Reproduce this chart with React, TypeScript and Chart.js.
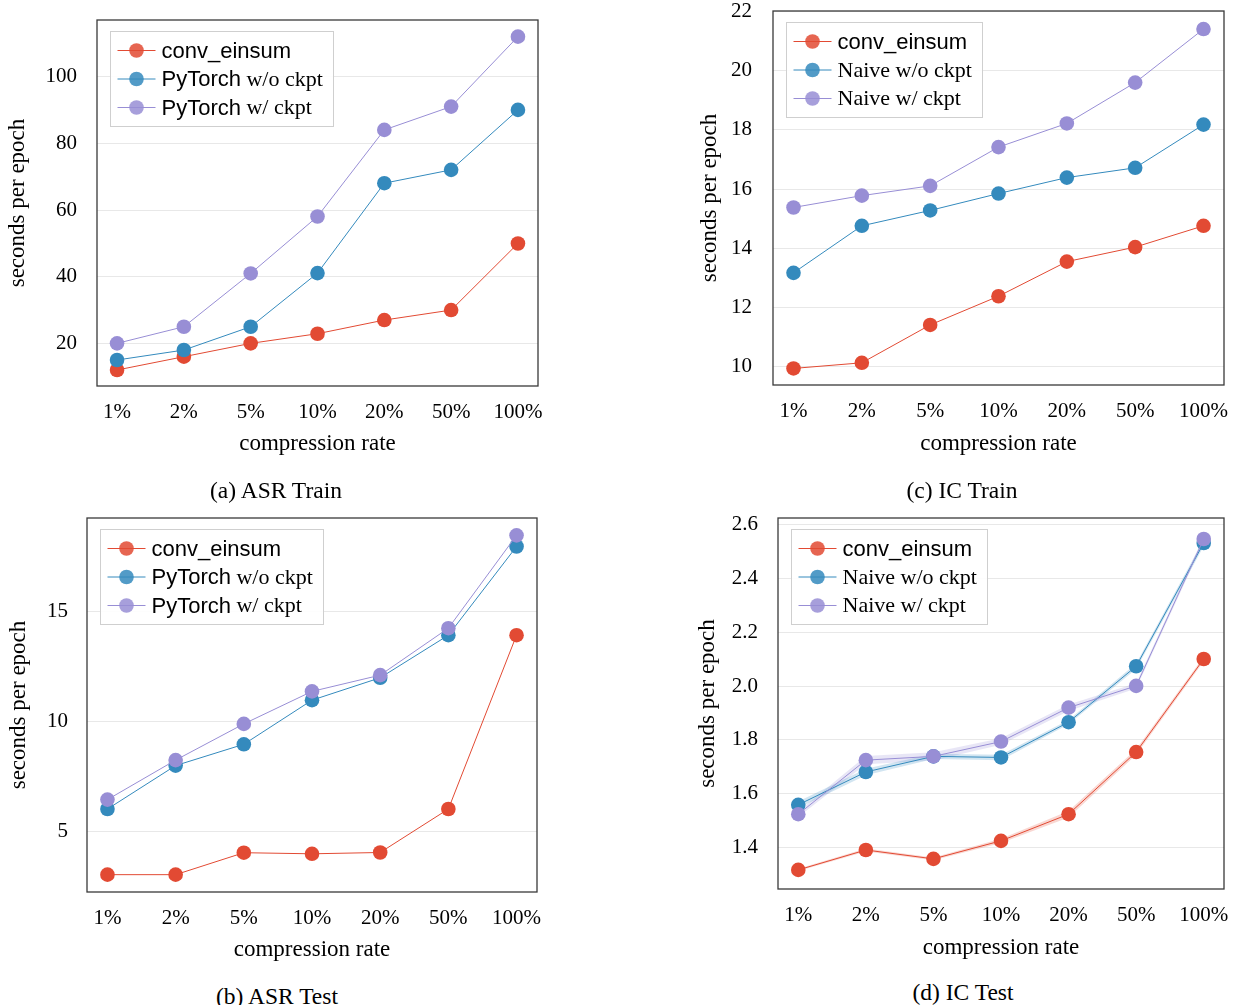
import React, { useEffect, useRef } from 'react';
import { Chart, registerables } from 'chart.js';

Chart.register(...registerables);

// ---------- data ----------
const compressionRates = ['1%', '2%', '5%', '10%', '20%', '50%', '100%'];

const asrTrainConvEinsum = [12.0, 16.0, 20.0, 22.9, 27.0, 30.0, 50.0];
const asrTrainPyTorchNoCkpt = [15.0, 18.0, 25.0, 41.1, 68.1, 72.1, 90.1];
const asrTrainPyTorchCkpt = [20.0, 25.0, 41.0, 58.1, 84.1, 91.1, 112.1];

const asrTestConvEinsum = [3.03, 3.03, 4.03, 3.98, 4.04, 6.02, 13.94];
const asrTestPyTorchNoCkpt = [6.02, 8.0, 8.97, 10.98, 12.0, 13.94, 17.98];
const asrTestPyTorchCkpt = [6.45, 8.25, 9.9, 11.38, 12.12, 14.26, 18.49];

const icTrainConvEinsum = [9.94, 10.13, 11.41, 12.38, 13.55, 14.04, 14.76];
const icTrainNaiveNoCkpt = [13.17, 14.76, 15.28, 15.85, 16.39, 16.72, 18.18];
const icTrainNaiveCkpt = [15.38, 15.78, 16.11, 17.42, 18.22, 19.6, 21.41];

const icTestConvEinsum = [1.317, 1.391, 1.358, 1.425, 1.524, 1.755, 2.101];
const icTestNaiveNoCkpt = [1.559, 1.681, 1.739, 1.735, 1.866, 2.074, 2.532];
const icTestNaiveCkpt = [1.524, 1.725, 1.739, 1.794, 1.92, 2.001, 2.547];
const icTestConvEinsumStd = [0.004, 0.006, 0.005, 0.008, 0.012, 0.01, 0.008];
const icTestNaiveNoCkptStd = [0.012, 0.012, 0.01, 0.01, 0.008, 0.01, 0.012];
const icTestNaiveCkptStd = [0.01, 0.015, 0.015, 0.012, 0.012, 0.01, 0.01];

const RED = '#E24A33';
const BLUE = '#348ABD';
const PURPLE = '#988ED5';

type Part = { text: string; serif: boolean };
type Series = { data: number[]; color: string; legend: Part[]; std?: number[] };
type PanelProps = {
  canvasLeft: number;
  canvasTop: number;
  canvasWidth: number;
  canvasHeight: number;
  area: { l: number; t: number; r: number; b: number };
  yMin: number;
  yMax: number;
  yStep: number;
  yDecimals: number;
  yTickPad: number;
  yTickSize: number;
  yTitlePad: number;
  xTitlePad: number;
  series: Series[];
};

function rgba(hex: string, a: number) {
  const n = parseInt(hex.slice(1), 16);
  return `rgba(${(n >> 16) & 255},${(n >> 8) & 255},${n & 255},${a})`;
}

function Panel(p: PanelProps) {
  const ref = useRef<HTMLCanvasElement>(null);
  useEffect(() => {
    const canvas = ref.current!;
    const datasets: any[] = [];
    p.series.forEach((s, i) => {
      if (s.std) {
        datasets.push({
          data: s.data.map((v, k) => ({ x: k, y: v - s.std![k] })),
          borderColor: 'rgba(0,0,0,0)',
          borderWidth: 0,
          pointRadius: 0,
          fill: false,
          order: 10,
        });
        datasets.push({
          data: s.data.map((v, k) => ({ x: k, y: v + s.std![k] })),
          borderColor: 'rgba(0,0,0,0)',
          borderWidth: 0,
          pointRadius: 0,
          fill: '-1',
          backgroundColor: rgba(s.color, 0.22),
          order: 10,
        });
      }
      datasets.push({
        data: s.data.map((v, k) => ({ x: k, y: v })),
        borderColor: s.color,
        backgroundColor: s.color,
        borderWidth: 1,
        pointRadius: 7.3,
        pointHoverRadius: 7.3,
        pointBorderWidth: 0,
        pointBackgroundColor: s.color,
        fill: false,
        tension: 0,
        order: 3 - i,
      });
    });

    const legendPlugin = {
      id: 'insideLegend',
      afterDatasetsDraw(chart: any) {
        const ctx = chart.ctx as CanvasRenderingContext2D;
        const ca = chart.chartArea;
        const fontSans = '22px "Liberation Sans"';
        const fontSerif = '22px "Liberation Serif"';
        ctx.save();
        const widths = p.series.map((s) =>
          s.legend.reduce((w, part) => {
            ctx.font = part.serif ? fontSerif : fontSans;
            return w + ctx.measureText(part.text).width;
          }, 0)
        );
        const maxW = Math.max(...widths);
        const rowH = 28.5;
        const bx = Math.round(ca.left + 13) + 0.5;
        const by = Math.round(ca.top + 11) + 0.5;
        const bw = Math.round(7 + 44 + maxW + 11);
        const bh = Math.round(38 + rowH * (p.series.length - 1));
        ctx.fillStyle = 'rgba(255,255,255,0.9)';
        ctx.fillRect(bx, by, bw, bh);
        ctx.strokeStyle = '#cfcfcf';
        ctx.lineWidth = 1;
        ctx.strokeRect(bx, by, bw, bh);
        p.series.forEach((s, i) => {
          const cy = by + 19 + i * rowH;
          const x0 = bx + 7;
          ctx.strokeStyle = s.color;
          ctx.lineWidth = 1;
          ctx.beginPath();
          ctx.moveTo(x0, cy);
          ctx.lineTo(x0 + 38, cy);
          ctx.stroke();
          ctx.globalAlpha = 0.85;
          ctx.fillStyle = s.color;
          ctx.beginPath();
          ctx.arc(x0 + 19, cy, 7.3, 0, Math.PI * 2);
          ctx.fill();
          ctx.globalAlpha = 1;
          let tx = x0 + 44;
          ctx.fillStyle = '#000';
          ctx.textBaseline = 'middle';
          ctx.textAlign = 'left';
          s.legend.forEach((part) => {
            ctx.font = part.serif ? fontSerif : fontSans;
            ctx.fillText(part.text, tx, cy + 1);
            tx += ctx.measureText(part.text).width;
          });
        });
        ctx.restore();
      },
    };

    const borderPlugin = {
      id: 'frame',
      afterDraw(chart: any) {
        const ctx = chart.ctx as CanvasRenderingContext2D;
        const ca = chart.chartArea;
        ctx.save();
        ctx.strokeStyle = '#3a3a3a';
        ctx.lineWidth = 1.3;
        ctx.strokeRect(ca.left, ca.top, ca.right - ca.left, ca.bottom - ca.top);
        ctx.restore();
      },
    };

    const zeroPad = (s: any) => {
      s.paddingTop = 0;
      s.paddingBottom = 0;
      s.paddingLeft = 0;
      s.paddingRight = 0;
    };

    const chart = new Chart(canvas, {
      type: 'line',
      data: { datasets },
      options: {
        responsive: false,
        animation: false,
        devicePixelRatio: 1,
        events: [],
        layout: {
          padding: {
            left: 0,
            top: p.area.t - p.canvasTop,
            right: p.canvasLeft + p.canvasWidth - p.area.r,
            bottom: 0,
          },
        },
        plugins: { legend: { display: false }, tooltip: { enabled: false } },
        scales: {
          x: {
            type: 'linear',
            min: -0.3,
            max: 6.3,
            afterFit: (s: any) => {
              s.height = p.canvasTop + p.canvasHeight - p.area.b;
              zeroPad(s);
            },
            grid: { display: false, drawTicks: false },
            border: { display: false },
            ticks: {
              stepSize: 1,
              includeBounds: false,
              autoSkip: false,
              maxRotation: 0,
              padding: 13.4,
              color: '#000',
              font: { family: 'Liberation Serif', size: 21, lineHeight: 1.2 },
              callback: (v: any) =>
                Number.isInteger(v) && compressionRates[v] !== undefined ? compressionRates[v] : '',
            },
            title: {
              display: true,
              text: 'compression rate',
              color: '#000',
              font: { family: 'Liberation Serif', size: 23, lineHeight: 1.2 },
              padding: { top: 0, bottom: p.xTitlePad },
            },
          },
          y: {
            type: 'linear',
            min: p.yMin,
            max: p.yMax,
            afterFit: (s: any) => {
              s.width = p.area.l - p.canvasLeft;
              zeroPad(s);
            },
            grid: { color: '#e8e8e8', drawTicks: false, lineWidth: 1 },
            border: { display: false },
            ticks: {
              stepSize: p.yStep,
              includeBounds: false,
              padding: p.yTickPad,
              color: '#000',
              font: { family: 'Liberation Serif', size: p.yTickSize, lineHeight: 1 },
              callback: (v: any) => Number(v).toFixed(p.yDecimals),
            },
            title: {
              display: true,
              text: 'seconds per epoch',
              color: '#000',
              font: { family: 'Liberation Serif', size: 23, lineHeight: 1.2 },
              padding: { top: p.yTitlePad, bottom: 0 },
            },
          },
        },
      } as any,
      plugins: [legendPlugin, borderPlugin],
    });
    return () => chart.destroy();
  }, []);
  return (
    <canvas
      ref={ref}
      width={p.canvasWidth}
      height={p.canvasHeight}
      style={{
        position: 'absolute',
        left: p.canvasLeft,
        top: p.canvasTop,
        width: p.canvasWidth,
        height: p.canvasHeight,
      }}
    />
  );
}

const convLegend: Part[] = [{ text: 'conv_einsum', serif: false }];
const ptNoLegend: Part[] = [
  { text: 'PyTorch', serif: false },
  { text: ' w/o ckpt', serif: true },
];
const ptCkLegend: Part[] = [
  { text: 'PyTorch', serif: false },
  { text: ' w/ ckpt', serif: true },
];
const nvNoLegend: Part[] = [{ text: 'Naive w/o ckpt', serif: true }];
const nvCkLegend: Part[] = [{ text: 'Naive w/ ckpt', serif: true }];

function Caption({ text, cx, cy }: { text: string; cx: number; cy: number }) {
  return (
    <div
      style={{
        position: 'absolute',
        left: cx - 200,
        top: cy - 14,
        width: 400,
        height: 28,
        lineHeight: '28px',
        textAlign: 'center',
        fontFamily: '"Liberation Serif"',
        fontSize: 23.5,
        color: '#000',
        whiteSpace: 'nowrap',
      }}
    >
      {text}
    </div>
  );
}

export default function App() {
  return (
    <div
      style={{
        position: 'absolute',
        left: 0,
        top: 0,
        width: 1233,
        height: 1005,
        overflow: 'hidden',
        background: '#fff',
      }}
    >
      <Panel
        canvasLeft={0}
        canvasTop={0}
        canvasWidth={610}
        canvasHeight={466}
        area={{ l: 97, t: 20, r: 538, b: 386 }}
        yMin={7.2}
        yMax={117.1}
        yStep={20}
        yDecimals={0}
        yTickPad={20}
        yTickSize={21}
        yTitlePad={3.7}
        xTitlePad={8.2}
        series={[
          { data: asrTrainConvEinsum, color: RED, legend: convLegend },
          { data: asrTrainPyTorchNoCkpt, color: BLUE, legend: ptNoLegend },
          { data: asrTrainPyTorchCkpt, color: PURPLE, legend: ptCkLegend },
        ]}
      />
      <Panel
        canvasLeft={0}
        canvasTop={500}
        canvasWidth={610}
        canvasHeight={472}
        area={{ l: 87, t: 518, r: 537, b: 892 }}
        yMin={2.24}
        yMax={19.28}
        yStep={5}
        yDecimals={0}
        yTickPad={19}
        yTickSize={21}
        yTitlePad={5.2}
        xTitlePad={8.2}
        series={[
          { data: asrTestConvEinsum, color: RED, legend: convLegend },
          { data: asrTestPyTorchNoCkpt, color: BLUE, legend: ptNoLegend },
          { data: asrTestPyTorchCkpt, color: PURPLE, legend: ptCkLegend },
        ]}
      />
      <Panel
        canvasLeft={690}
        canvasTop={0}
        canvasWidth={543}
        canvasHeight={465}
        area={{ l: 773, t: 11, r: 1224, b: 385 }}
        yMin={9.38}
        yMax={22.02}
        yStep={2}
        yDecimals={0}
        yTickPad={21}
        yTickSize={21}
        yTitlePad={6.2}
        xTitlePad={7.2}
        series={[
          { data: icTrainConvEinsum, color: RED, legend: convLegend },
          { data: icTrainNaiveNoCkpt, color: BLUE, legend: nvNoLegend },
          { data: icTrainNaiveCkpt, color: PURPLE, legend: nvCkLegend },
        ]}
      />
      <Panel
        canvasLeft={690}
        canvasTop={500}
        canvasWidth={543}
        canvasHeight={469}
        area={{ l: 778, t: 518, r: 1224, b: 889 }}
        yMin={1.246}
        yMax={2.625}
        yStep={0.2}
        yDecimals={1}
        yTickPad={20}
        yTickSize={21}
        yTitlePad={4.2}
        xTitlePad={7.2}
        series={[
          { data: icTestConvEinsum, color: RED, legend: convLegend, std: icTestConvEinsumStd },
          { data: icTestNaiveNoCkpt, color: BLUE, legend: nvNoLegend, std: icTestNaiveNoCkptStd },
          { data: icTestNaiveCkpt, color: PURPLE, legend: nvCkLegend, std: icTestNaiveCkptStd },
        ]}
      />
      <Caption text="(a) ASR Train" cx={276} cy={490} />
      <Caption text="(c) IC Train" cx={962} cy={490} />
      <Caption text="(b) ASR Test" cx={277} cy={996} />
      <Caption text="(d) IC Test" cx={963} cy={992} />
    </div>
  );
}
